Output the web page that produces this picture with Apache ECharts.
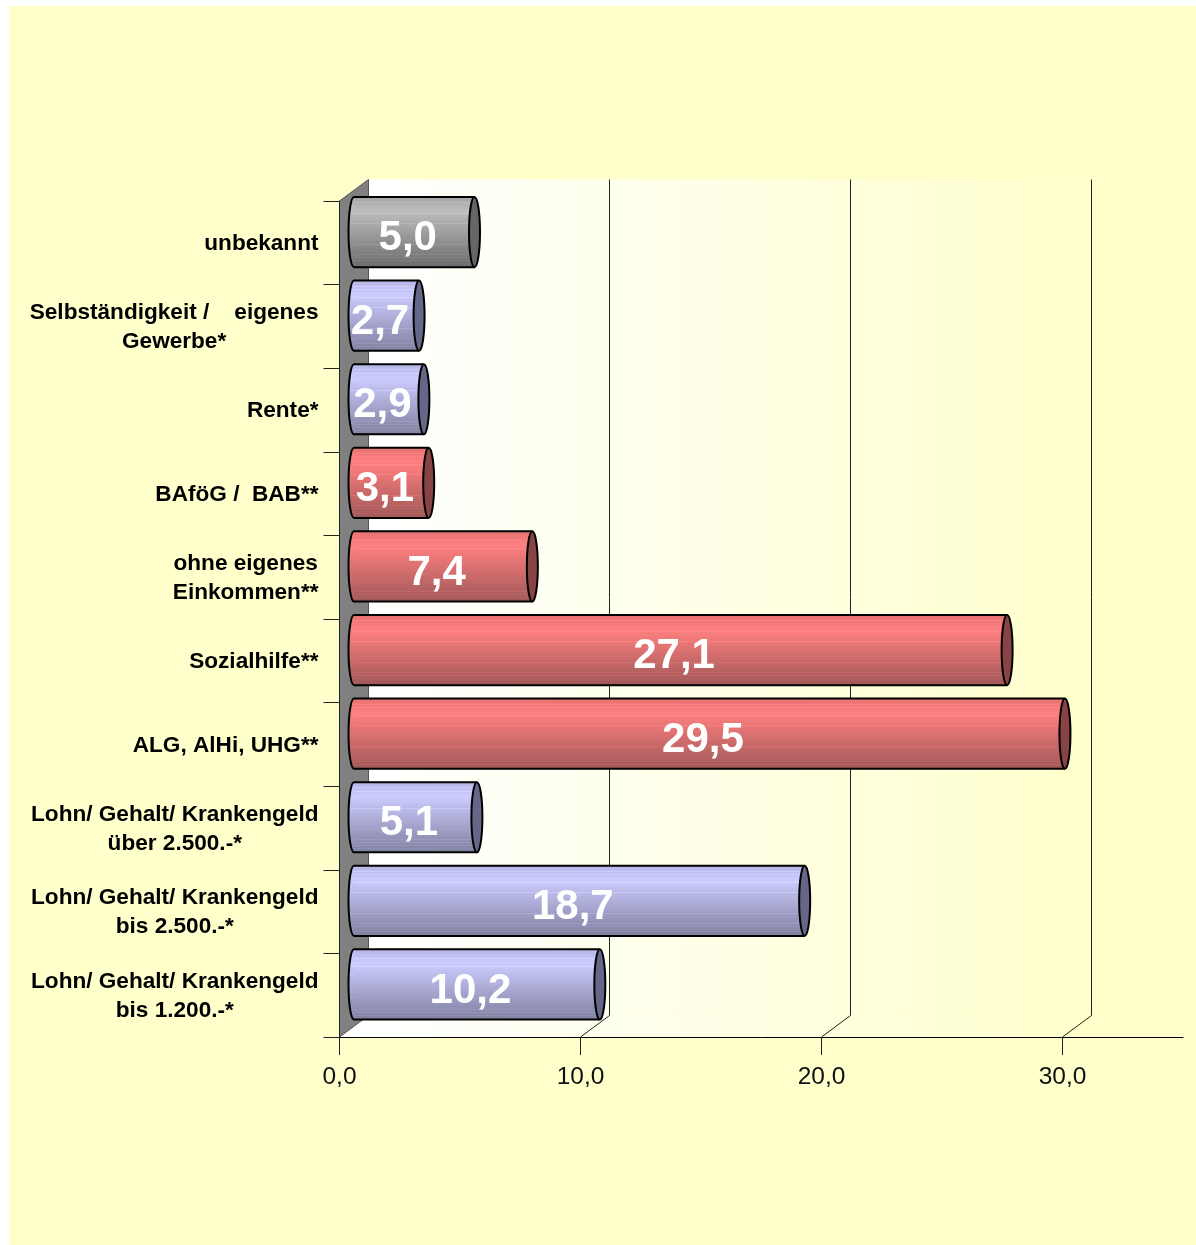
<!DOCTYPE html>
<html>
<head>
<meta charset="utf-8">
<title>Einkommen</title>
<script src="https://cdn.jsdelivr.net/npm/echarts@6/dist/echarts.min.js"></script>
<style>
  html, body { margin: 0; padding: 0; background: #ffffff; overflow: hidden; }
  #chart { position: absolute; left: 0; top: 0; width: 1196px; height: 1245px; }
</style>
</head>
<body>
<div id="chart"></div>
<script>
// werte, von oben nach unten
var categories = [
  'unbekannt',
  'Selbständigkeit /    eigenes\nGewerbe*',
  'Rente*',
  'BAföG /  BAB**',
  'ohne eigenes\nEinkommen**',
  'Sozialhilfe**',
  'ALG, AlHi, UHG**',
  'Lohn/ Gehalt/ Krankengeld\nüber 2.500.-*',
  'Lohn/ Gehalt/ Krankengeld\nbis 2.500.-*',
  'Lohn/ Gehalt/ Krankengeld\nbis 1.200.-*'
];
var values = [5.0, 2.7, 2.9, 3.1, 7.4, 27.1, 29.5, 5.1, 18.7, 10.2];
var groups = ['grey', 'blue', 'blue', 'red', 'red', 'red', 'red', 'blue', 'blue', 'blue'];
var xTicks = [0, 10, 20, 30];

// farben je gruppe: oben, hell, unten, deckel
var palette = {
  grey: ['#a4a4a4', '#bdbdbd', '#6c6c6c', '#666666'],
  blue: ['#b4b4e4', '#ccccff', '#80809f', '#666688'],
  red: ['#e47272', '#ff8080', '#a05858', '#884444']
};

// 3d versatz der wand
var depthX = 29, depthY = -21.5;

function fmt(v) {
  return v.toFixed(1).replace('.', ',');
}

function cylinderFill(c) {
  // helle streifen wie im original
  var stops = [
    { offset: 0, color: c[0] },
    { offset: 0.2, color: c[1] }
  ];
  var lines = [0.08, 0.13, 0.24, 0.38, 0.68, 0.82, 0.86, 0.9, 0.94];
  var mix = function (t) {
    return t < 0.2 ? echarts.color.lerp(t / 0.2, [c[0], c[1]])
      : echarts.color.lerp((t - 0.2) / 0.8, [c[1], c[2]]);
  };
  var all = [];
  lines.forEach(function (t) {
    var base = mix(t);
    var light = echarts.color.lift(base, -0.08);
    all.push({ offset: t - 0.006, color: base });
    all.push({ offset: t - 0.005, color: light });
    all.push({ offset: t + 0.005, color: light });
    all.push({ offset: t + 0.006, color: base });
  });
  stops = stops.concat(all).concat([{ offset: 1, color: c[2] }]);
  stops.sort(function (a, b) { return a.offset - b.offset; });
  return { type: 'linear', x: 0, y: 0, x2: 0, y2: 1, colorStops: stops };
}

function renderWalls(params, api) {
  var sys = params.coordSys;
  var x0 = api.coord([0, 0])[0];
  var x30 = api.coord([30, 0])[0];
  var top = sys.y, bottom = sys.y + sys.height;
  var wallFill = {
    type: 'linear', global: true,
    x: x0 + depthX, y: 0, x2: x30 + depthX, y2: 0,
    colorStops: [
      { offset: 0, color: '#ffffff' },
      { offset: 1, color: '#ffffcc' }
    ]
  };
  var children = [
    { type: 'rect', shape: { x: x0 + depthX, y: top + depthY, width: x30 - x0, height: sys.height }, style: { fill: wallFill } },
    { type: 'polygon', shape: { points: [[x0, bottom], [x0 + depthX, bottom + depthY], [x30 + depthX, bottom + depthY], [x30, bottom]] }, style: { fill: wallFill } },
    { type: 'polygon', shape: { points: [[x0, top], [x0 + depthX, top + depthY], [x0 + depthX, bottom + depthY], [x0, bottom]] }, style: { fill: '#808080', stroke: '#555555', lineWidth: 1 } }
  ];
  xTicks.forEach(function (t) {
    if (t === 0) return;
    var x = api.coord([t, 0])[0];
    children.push({
      type: 'polyline',
      shape: { points: [[x, bottom], [x + depthX, bottom + depthY], [x + depthX, top + depthY]] },
      style: { fill: null, stroke: '#222222', lineWidth: 1 }
    });
  });
  return { type: 'group', children: children };
}

function renderBar(params, api) {
  var v = api.value(0), i = api.value(1);
  var mid = depthX / 2, lift = depthY / 2;
  var start = api.coord([0, i]);
  var end = api.coord([v, i]);
  var half = api.size([0, 1])[1] * 0.42;
  var y = start[1] + lift;
  var x1 = start[0] + mid, x2 = end[0] + mid;
  var c = palette[groups[i]];
  var fill = cylinderFill(c);
  var rx = 5.5;
  var center = api.coord([v / 2, i]);
  return {
    type: 'group',
    children: [
      { type: 'ellipse', shape: { cx: x1, cy: y, rx: rx, ry: half }, style: { fill: fill, stroke: '#000000', lineWidth: 2 } },
      { type: 'rect', shape: { x: x1, y: y - half, width: x2 - x1, height: half * 2 }, style: { fill: fill } },
      { type: 'line', shape: { x1: x1, y1: y - half, x2: x2, y2: y - half }, style: { stroke: '#000000', lineWidth: 2 } },
      { type: 'line', shape: { x1: x1, y1: y + half, x2: x2, y2: y + half }, style: { stroke: '#000000', lineWidth: 2 } },
      { type: 'ellipse', shape: { cx: x2, cy: y, rx: rx, ry: half }, style: { fill: c[3], stroke: '#000000', lineWidth: 2 } },
      {
        type: 'text',
        style: {
          text: fmt(v), x: center[0] + 8, y: y + 6.5,
          align: 'center', verticalAlign: 'middle',
          fill: '#ffffff', font: 'bold 42px "Liberation Sans", Arial, sans-serif'
        }
      }
    ]
  };
}

var chart = echarts.init(document.getElementById('chart'), null, { renderer: 'canvas' });

var barData = values.map(function (v, i) { return [v, i]; });

chart.setOption({
  backgroundColor: 'transparent',
  animation: false,
  graphic: [{
    type: 'rect', z: -10, silent: true,
    shape: { x: 9, y: 6, width: 1187, height: 1239 },
    style: { fill: '#ffffcc' }
  }],
  grid: { left: 339.5, top: 201, width: 843.5, height: 836, containLabel: false },
  xAxis: {
    type: 'value', position: 'bottom', min: 0, max: 35, interval: 10, z: 5,
    axisLine: { show: true, onZero: false, lineStyle: { color: '#000000', width: 1 } },
    axisTick: { show: true, length: 18, customValues: xTicks, lineStyle: { color: '#222222', width: 1 } },
    splitLine: { show: false },
    axisLabel: {
      margin: 28, color: '#111111', fontSize: 24.5, customValues: xTicks,
      fontFamily: '"Liberation Sans", Arial, sans-serif',
      formatter: function (v) { return fmt(v); }
    }
  },
  yAxis: {
    type: 'category', data: categories, inverse: true, z: 5,
    axisLine: { show: true, lineStyle: { color: '#222222', width: 1 } },
    axisTick: { show: true, length: 16, lineStyle: { color: '#222222', width: 1 } },
    splitLine: { show: false },
    axisLabel: {
      interval: 0, margin: 21, align: 'right', padding: [2, 0, 0, 0],
      color: '#000000', fontSize: 22.6, fontWeight: 'bold', lineHeight: 29,
      fontFamily: '"Liberation Sans", Arial, sans-serif',
      formatter: function (s) {
        return s.split('\n').map(function (l) { return '{c|' + l + '}'; }).join('\n');
      },
      rich: {
        c: {
          align: 'center', color: '#000000', fontSize: 22.6, fontWeight: 'bold', lineHeight: 29,
          fontFamily: '"Liberation Sans", Arial, sans-serif'
        }
      }
    }
  },
  series: [
    { type: 'custom', z: 1, silent: true, clip: false, data: [[0, 0]], renderItem: renderWalls },
    { type: 'custom', z: 3, silent: true, clip: false, data: barData, encode: { x: 0, y: 1 }, renderItem: renderBar }
  ]
});
</script>
</body>
</html>
